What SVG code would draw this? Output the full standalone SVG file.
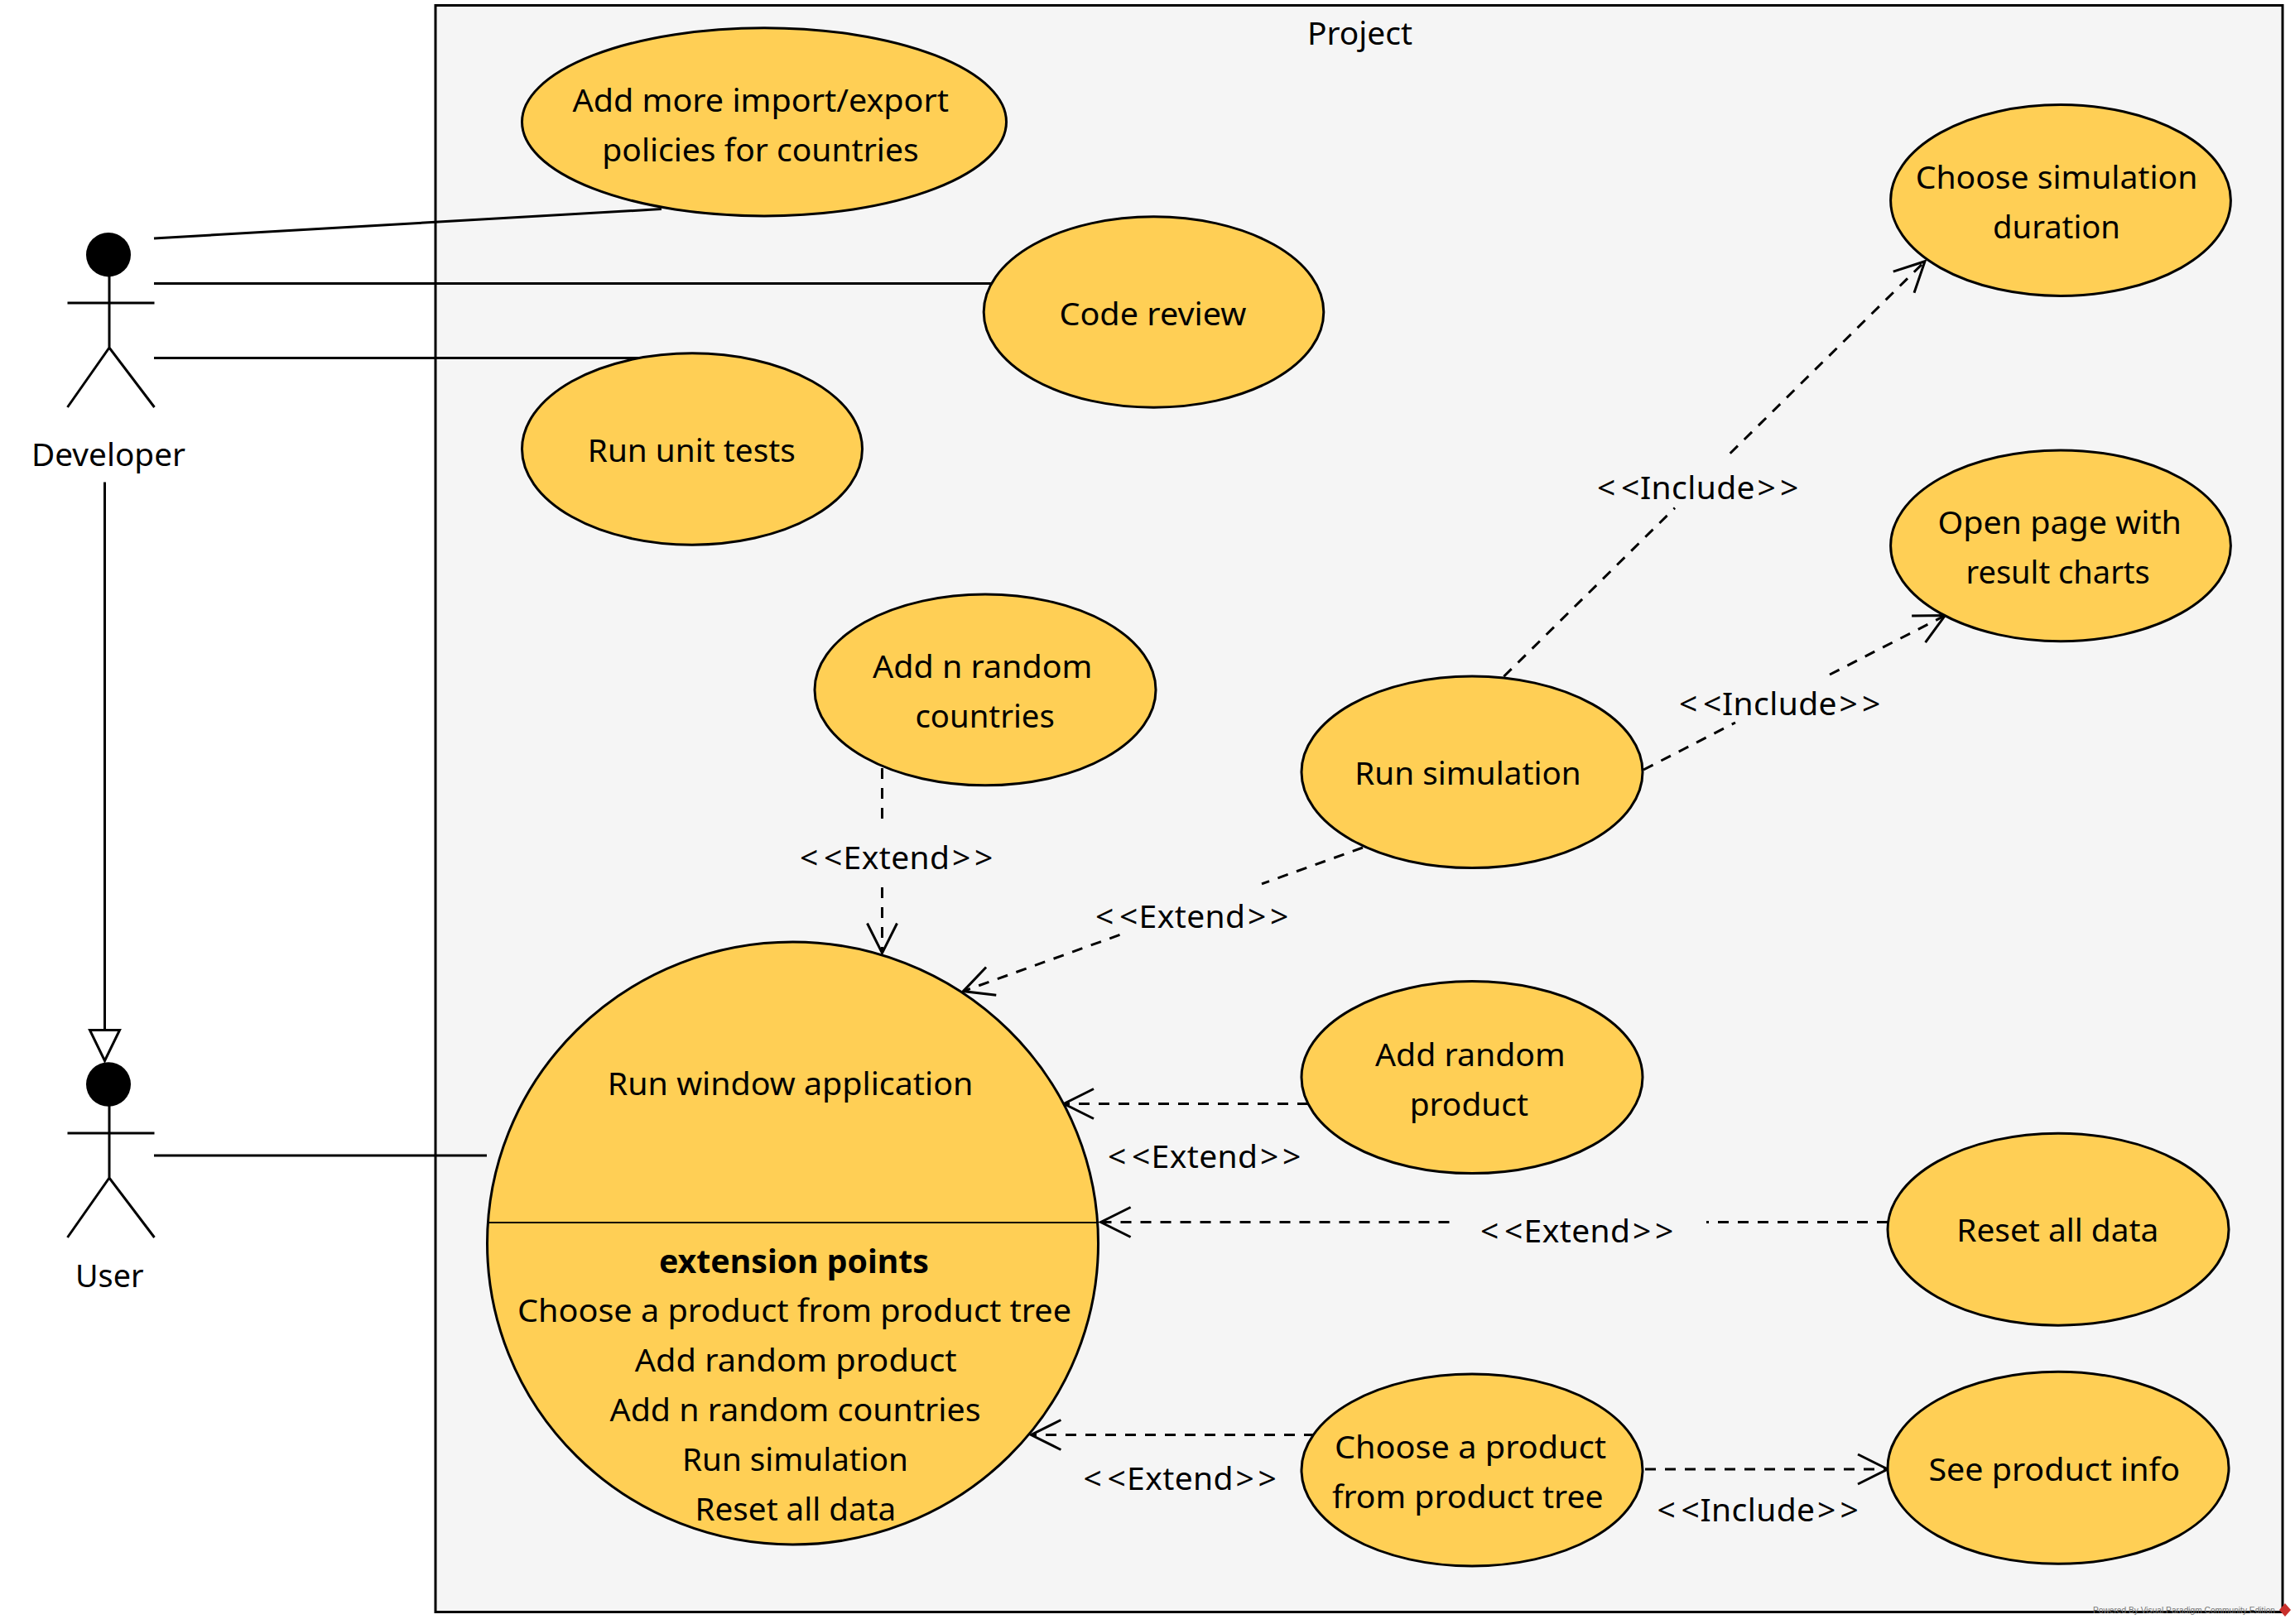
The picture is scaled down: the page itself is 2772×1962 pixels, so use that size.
<svg xmlns="http://www.w3.org/2000/svg" width="2772" height="1962" viewBox="0 0 2772 1962">
<style>
text{font-family:"Noto Sans","Open Sans","Liberation Sans",sans-serif;font-size:39px;fill:#000}
.b{font-weight:700}
.uc{fill:#FFCF55;stroke:#000;stroke-width:3}
.ln{fill:none;stroke:#000;stroke-width:3}
.da{fill:none;stroke:#000;stroke-width:3;stroke-dasharray:13 11}
.ex{letter-spacing:.4px}
.in{letter-spacing:.4px}
.wm{font-family:"Liberation Sans",Arial,sans-serif;font-size:10.5px;fill:#777}
</style>
<defs>
<marker id="open" markerUnits="userSpaceOnUse" markerWidth="90" markerHeight="90" refX="45" refY="45" orient="auto" viewBox="0 0 90 90"><path d="M9,27 L45,45 L9,63" fill="none" stroke="#000" stroke-width="3"/></marker>
<marker id="tri" markerUnits="userSpaceOnUse" markerWidth="60" markerHeight="60" refX="50" refY="30" orient="auto" viewBox="0 0 60 60"><path d="M13,12 L50,30 L13,48 Z" fill="#fff" stroke="#000" stroke-width="3"/></marker>
</defs>
<rect width="2772" height="1962" fill="#fff"/>
<g id="project">
<rect x="526" y="6.5" width="2231" height="1941" fill="#F5F5F5" stroke="#000" stroke-width="3"/>
<text x="1579" y="54" textLength="127" lengthAdjust="spacingAndGlyphs">Project</text>
</g>
<g id="connectors">
<line class="ln" x1="186" y1="288" x2="799" y2="252.5"/>
<line class="ln" x1="186" y1="342.5" x2="1197" y2="342.5"/>
<line class="ln" x1="186" y1="432.5" x2="772" y2="432.5"/>
<line class="ln" x1="186" y1="1396" x2="588" y2="1396"/>
<line class="ln" x1="126.5" y1="582.5" x2="126.5" y2="1281.5" marker-end="url(#tri)"/>
<line class="da" x1="1065.5" y1="928" x2="1065.5" y2="1000"/>
<line class="da" x1="1065.5" y1="1072" x2="1065.5" y2="1151.5" marker-end="url(#open)"/>
<text transform="translate(966,1050)"><tspan x="0">&lt;</tspan><tspan x="29">&lt;</tspan><tspan class="ex" x="52.6">Extend</tspan><tspan x="184">&gt;</tspan><tspan x="211">&gt;</tspan></text>
<line class="da" x1="1646" y1="1024" x2="1524" y2="1067.8"/>
<line class="da" x1="1352.5" y1="1129.4" x2="1163.3" y2="1197.6" marker-end="url(#open)"/>
<text transform="translate(1323,1120.5)"><tspan x="0">&lt;</tspan><tspan x="29">&lt;</tspan><tspan class="ex" x="52.6">Extend</tspan><tspan x="184">&gt;</tspan><tspan x="211">&gt;</tspan></text>
<line class="da" x1="1816.4" y1="817.3" x2="2023" y2="613.6"/>
<line class="da" x1="2089.7" y1="547.8" x2="2325" y2="315.7" marker-end="url(#open)"/>
<text transform="translate(1929,603.3)"><tspan x="0">&lt;</tspan><tspan x="29">&lt;</tspan><tspan class="in" x="52">Include</tspan><tspan x="193.6">&gt;</tspan><tspan x="221">&gt;</tspan></text>
<line class="da" x1="1985" y1="930" x2="2096" y2="873"/>
<line class="da" x1="2210" y1="815" x2="2349.4" y2="743.6" marker-end="url(#open)"/>
<text transform="translate(2028,863.6)"><tspan x="0">&lt;</tspan><tspan x="29">&lt;</tspan><tspan class="in" x="52">Include</tspan><tspan x="193.6">&gt;</tspan><tspan x="221">&gt;</tspan></text>
<line class="da" x1="1580" y1="1333.5" x2="1285" y2="1333.5" marker-end="url(#open)"/>
<text transform="translate(1338,1410.8)"><tspan x="0">&lt;</tspan><tspan x="29">&lt;</tspan><tspan class="ex" x="52.6">Extend</tspan><tspan x="184">&gt;</tspan><tspan x="211">&gt;</tspan></text>
<line class="da" x1="2280" y1="1476.5" x2="2061" y2="1476.5"/>
<line class="da" x1="1750.5" y1="1476.5" x2="1329.6" y2="1476.5" marker-end="url(#open)"/>
<text transform="translate(1788,1500.8)"><tspan x="0">&lt;</tspan><tspan x="29">&lt;</tspan><tspan class="ex" x="52.6">Extend</tspan><tspan x="184">&gt;</tspan><tspan x="211">&gt;</tspan></text>
<line class="da" x1="1588" y1="1733.5" x2="1245.4" y2="1733.5" marker-end="url(#open)"/>
<text transform="translate(1308.5,1800.3)"><tspan x="0">&lt;</tspan><tspan x="29">&lt;</tspan><tspan class="ex" x="52.6">Extend</tspan><tspan x="184">&gt;</tspan><tspan x="211">&gt;</tspan></text>
<line class="da" x1="1987" y1="1775" x2="2280" y2="1775" marker-end="url(#open)"/>
<text transform="translate(2001.5,1837.8)"><tspan x="0">&lt;</tspan><tspan x="29">&lt;</tspan><tspan class="in" x="52">Include</tspan><tspan x="193.6">&gt;</tspan><tspan x="221">&gt;</tspan></text>
</g>
<g id="developer">
<ellipse cx="131" cy="307.7" rx="27" ry="26.7" fill="#000"/>
<path class="ln" d="M132,334 V420 M81.5,366 H186.5 M81.5,492 L132,420 L186.5,492"/>
<text x="38" y="563" textLength="186" lengthAdjust="spacingAndGlyphs">Developer</text>
</g>
<g id="user">
<ellipse cx="131" cy="1310" rx="27" ry="26.7" fill="#000"/>
<path class="ln" d="M132,1336 V1422.5 M81.5,1369 H186.5 M81.5,1495 L132,1423 L186.5,1495"/>
<text x="91" y="1554.5" textLength="82.5" lengthAdjust="spacingAndGlyphs">User</text>
</g>
<g id="add-more">
<ellipse class="uc" cx="923" cy="147.3" rx="292.5" ry="113.6"/>
<text x="691.5" y="135.4" textLength="454.5" lengthAdjust="spacingAndGlyphs">Add more import/export</text>
<text x="727.3" y="195" textLength="382.3" lengthAdjust="spacingAndGlyphs">policies for countries</text>
</g>
<g id="code-review">
<ellipse class="uc" cx="1393.5" cy="377" rx="205.3" ry="115.2"/>
<text x="1279.4" y="392.8" textLength="226" lengthAdjust="spacingAndGlyphs">Code review</text>
</g>
<g id="run-unit-tests">
<ellipse class="uc" cx="836" cy="542.5" rx="205.5" ry="115.7"/>
<text x="709.8" y="558.4" textLength="251" lengthAdjust="spacingAndGlyphs">Run unit tests</text>
</g>
<g id="choose-duration">
<ellipse class="uc" cx="2489" cy="242" rx="205.4" ry="115.4"/>
<text x="2313.7" y="228" textLength="340.7" lengthAdjust="spacingAndGlyphs">Choose simulation</text>
<text x="2407" y="288.3" textLength="154" lengthAdjust="spacingAndGlyphs">duration</text>
</g>
<g id="open-page">
<ellipse class="uc" cx="2489" cy="659.3" rx="205.4" ry="115.4"/>
<text x="2340.4" y="645.4" textLength="294.6" lengthAdjust="spacingAndGlyphs">Open page with</text>
<text x="2374.5" y="704.5" textLength="222.3" lengthAdjust="spacingAndGlyphs">result charts</text>
</g>
<g id="add-n-countries">
<ellipse class="uc" cx="1190" cy="833.4" rx="206" ry="115.4"/>
<text x="1054" y="819.4" textLength="265.4" lengthAdjust="spacingAndGlyphs">Add n random</text>
<text x="1105.4" y="878.7" textLength="168.4" lengthAdjust="spacingAndGlyphs">countries</text>
</g>
<g id="run-simulation">
<ellipse class="uc" cx="1778" cy="932.8" rx="206" ry="115.8"/>
<text x="1636.3" y="948.4" textLength="273.4" lengthAdjust="spacingAndGlyphs">Run simulation</text>
</g>
<g id="add-random-product">
<ellipse class="uc" cx="1778" cy="1301.6" rx="206" ry="116"/>
<text x="1661" y="1287.9" textLength="229.8" lengthAdjust="spacingAndGlyphs">Add random</text>
<text x="1702.7" y="1347.5" textLength="143.3" lengthAdjust="spacingAndGlyphs">product</text>
</g>
<g id="reset-all-data">
<ellipse class="uc" cx="2486" cy="1485.2" rx="206" ry="116"/>
<text x="2363.3" y="1500" textLength="244" lengthAdjust="spacingAndGlyphs">Reset all data</text>
</g>
<g id="choose-product">
<ellipse class="uc" cx="1778" cy="1776" rx="206" ry="116"/>
<text x="1612" y="1762" textLength="328" lengthAdjust="spacingAndGlyphs">Choose a product</text>
<text x="1609" y="1822.3" textLength="327.7" lengthAdjust="spacingAndGlyphs">from product tree</text>
</g>
<g id="see-product-info">
<ellipse class="uc" cx="2486" cy="1773.3" rx="206" ry="116"/>
<text x="2329.4" y="1788.5" textLength="303.6" lengthAdjust="spacingAndGlyphs">See product info</text>
</g>
<g id="run-window-application">
<ellipse class="uc" cx="957.5" cy="1502" rx="369" ry="364"/>
<line x1="590" y1="1477" x2="1325" y2="1477" stroke="#000" stroke-width="2"/>
<text x="733.8" y="1323" textLength="441.5" lengthAdjust="spacingAndGlyphs">Run window application</text>
<text class="b" x="796" y="1537.5" textLength="326" lengthAdjust="spacingAndGlyphs">extension points</text>
<text x="625" y="1596.5" textLength="669" lengthAdjust="spacingAndGlyphs">Choose a product from product tree</text>
<text x="766.7" y="1656.5" textLength="389" lengthAdjust="spacingAndGlyphs">Add random product</text>
<text x="736.5" y="1717" textLength="448" lengthAdjust="spacingAndGlyphs">Add n random countries</text>
<text x="824" y="1777.3" textLength="273" lengthAdjust="spacingAndGlyphs">Run simulation</text>
<text x="839.6" y="1836.5" textLength="242.6" lengthAdjust="spacingAndGlyphs">Reset all data</text>
</g>
<g id="watermark">
<text class="wm" x="2528" y="1949" textLength="220" lengthAdjust="spacingAndGlyphs">Powered By Visual Paradigm Community Edition</text>
<path d="M2760,1937 L2767,1945 L2760,1953 L2753,1945 Z" fill="#C9302C"/>
</g>
</svg>
